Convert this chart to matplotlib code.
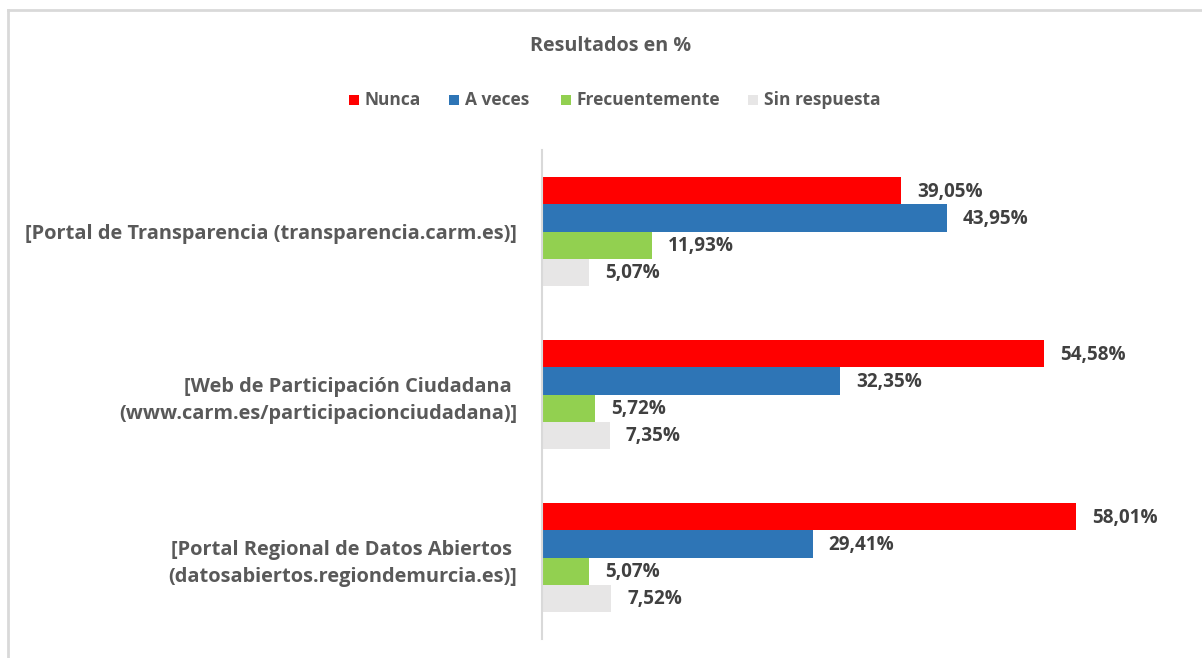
import matplotlib
matplotlib.use("Agg")
import matplotlib.pyplot as plt
from matplotlib.patches import Rectangle
from matplotlib.lines import Line2D
import numpy as np

categories = [
    "[Portal de Transparencia (transparencia.carm.es)]",
    "[Web de Participación Ciudadana \n(www.carm.es/participacionciudadana)]",
    "[Portal Regional de Datos Abiertos \n(datosabiertos.regiondemurcia.es)]",
]
series_names = ["Nunca", "A veces", "Frecuentemente", "Sin respuesta"]
nunca = [39.05, 54.58, 58.01]
a_veces = [43.95, 32.35, 29.41]
frecuentemente = [11.93, 5.72, 5.07]
sin_respuesta = [5.07, 7.35, 7.52]
colors = ["#FF0000", "#2E75B6", "#92D050", "#E7E6E6"]

FONT = "Open Sans"
TXT = "#595959"
LBL = "#404040"

W, H = 1202, 658
fig = plt.figure(figsize=(W / 100, H / 100), dpi=100)

# outer border (top & left visible)
fig.add_artist(Line2D([8 / W, 8 / W], [0, 1 - 10 / H], transform=fig.transFigure,
                      color="#D9D9D9", lw=2))
fig.add_artist(Line2D([8 / W, 1], [1 - 10 / H, 1 - 10 / H], transform=fig.transFigure,
                      color="#D9D9D9", lw=2))

ax_left, ax_right = 542, 1186
ax_top, ax_bot = 150, 639
ax = fig.add_axes([ax_left / W, 1 - ax_bot / H, (ax_right - ax_left) / W, (ax_bot - ax_top) / H])

data = [nunca, a_veces, frecuentemente, sin_respuesta]
n = len(categories)
y = np.arange(n)
bh = 0.67 / 4
for i, (vals, col) in enumerate(zip(data, colors)):
    pos = y - 0.335 + bh * (i + 0.5)
    ax.barh(pos, vals, height=bh, color=col, edgecolor="none")
    for p, v in zip(pos, vals):
        ax.annotate(f"{v:.2f}".replace(".", ",") + "%", (v, p), xytext=(16, -1),
                    textcoords="offset pixels",
                    va="center", ha="left", fontsize=13.6, fontweight="bold",
                    color=LBL, family=FONT)

ax.set_ylim(n - 0.5, -0.5)
ax.set_xlim(0, (ax_right - ax_left) / 9.205)
ax.set_yticks(y)
ax.set_yticklabels(categories, fontsize=14.4, fontweight="bold", color=TXT, family=FONT,
                   ha="right", multialignment="right", linespacing=1.45)
ax.tick_params(axis="y", length=0, pad=18)
ax.set_xticks([])
for s in ["top", "right", "bottom"]:
    ax.spines[s].set_visible(False)
ax.spines["left"].set_color("#D9D9D9")
ax.spines["left"].set_linewidth(1.5)

# title
fig.text(611 / W, 1 - 46 / H, "Resultados en %", ha="center", va="center",
         fontsize=14.2, fontweight="bold", color=TXT, family=FONT)

# legend (manual)
sq_x = [349, 449, 561, 748]
for name, col, x in zip(series_names, colors, sq_x):
    fig.add_artist(Rectangle((x / W, 1 - 105 / H), 10 / W, 10 / H, transform=fig.transFigure,
                             facecolor=col, edgecolor="none"))
    fig.text((x + 16) / W, 1 - 100 / H, name, ha="left", va="center",
             fontsize=12.5, fontweight="bold", color=TXT, family=FONT)

fig.savefig("out.png", dpi=100, facecolor="white")
